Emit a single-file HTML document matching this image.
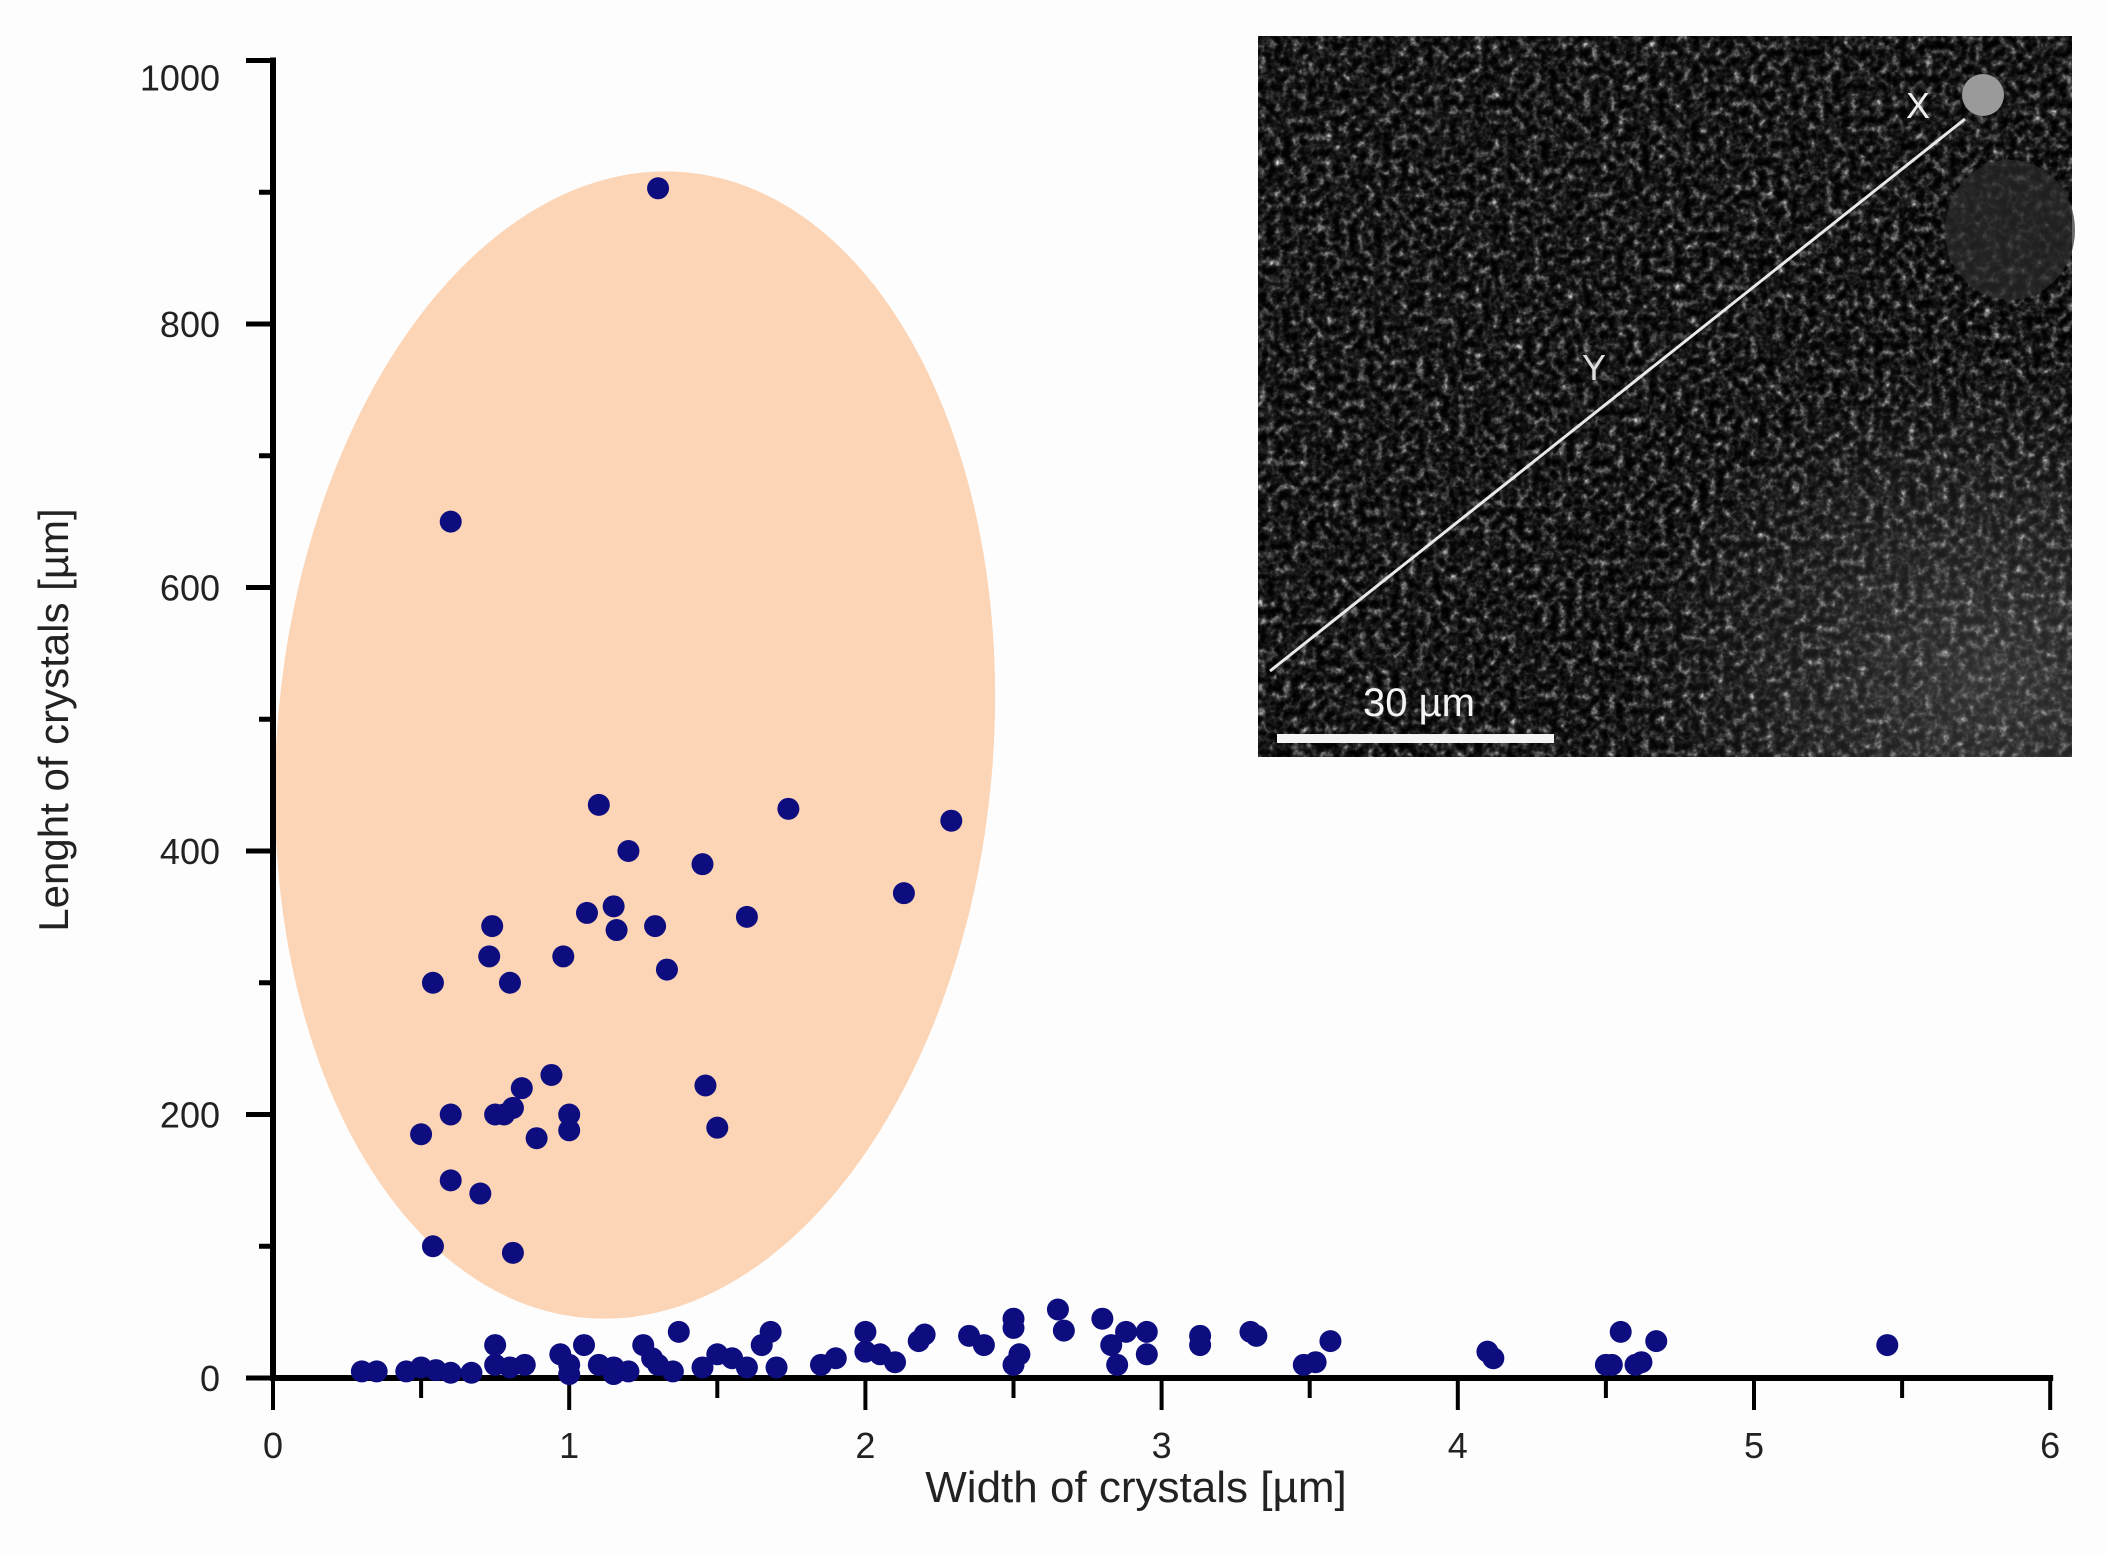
<!DOCTYPE html>
<html><head><meta charset="utf-8"><style>
html,body{margin:0;padding:0;background:#fdfdfd;}
svg{display:block;font-family:"Liberation Sans",sans-serif;}
</style></head><body>
<svg id="chart" width="2107" height="1555" viewBox="0 0 2107 1555">
<defs>
<filter id="sem" x="0" y="0" width="100%" height="100%" color-interpolation-filters="sRGB">
<feTurbulence type="fractalNoise" baseFrequency="0.12" numOctaves="3" seed="4" result="n"/>
<feColorMatrix in="n" type="matrix" values="1 0 0 0 0  1 0 0 0 0  1 0 0 0 0  0 0 0 0 1" result="g"/>
<feComponentTransfer in="g">
<feFuncR type="gamma" amplitude="1.15" exponent="3.6" offset="0"/>
<feFuncG type="gamma" amplitude="1.15" exponent="3.6" offset="0"/>
<feFuncB type="gamma" amplitude="1.15" exponent="3.6" offset="0"/>
</feComponentTransfer>
</filter>
<radialGradient id="glow" cx="0.9" cy="0.9" r="0.45">
<stop offset="0" stop-color="#888" stop-opacity="0.35"/>
<stop offset="1" stop-color="#888" stop-opacity="0"/>
</radialGradient>
</defs>
<rect width="2107" height="1555" fill="#fdfdfd"/>
<ellipse cx="635" cy="745" rx="358" ry="575" transform="rotate(5 635 745)" fill="#fcd5b6"/>
<g id="inset">
<rect x="1258" y="36" width="814" height="721" fill="#141414"/>
<rect x="1258" y="36" width="814" height="721" filter="url(#sem)"/>
<rect x="1258" y="36" width="814" height="721" fill="url(#glow)"/>
<ellipse cx="2010" cy="230" rx="65" ry="70" fill="#2c2c2c" opacity="0.7"/>
<line x1="1270" y1="671" x2="1965" y2="119" stroke="#e8e8e8" stroke-width="3"/>
<circle cx="1983" cy="95" r="21" fill="#9a9a9a"/>
<text x="1594" y="380" fill="#ddd" font-size="36" text-anchor="middle">Y</text>
<text x="1918" y="118" fill="#eee" font-size="36" text-anchor="middle">X</text>
<rect x="1277" y="734" width="277" height="9" fill="#f4f4f4"/>
<text x="1363" y="716" fill="#f4f4f4" font-size="40">30 µm</text>
</g>
<g id="axes"></g>
<g id="points"></g>
<text x="1136" y="1502" font-size="44" text-anchor="middle" fill="#222">Width of crystals  [µm]</text>
<text x="0" y="0" font-size="42" text-anchor="middle" fill="#222" transform="translate(68 720) rotate(-90)">Lenght of crystals [µm]</text>
</svg>
<script>
const xs = [1.3,0.6,1.1,1.74,2.29,1.2,1.45,2.13,1.06,1.15,1.6,0.74,1.16,1.29,0.73,0.98,1.33,0.54,0.8,0.94,1.46,0.84,0.81,0.75,0.6,0.78,1.0,1.0,1.5,0.89,0.5,0.6,0.7,0.54,0.81,
0.3,0.35,0.45,0.5,0.55,0.6,0.67,0.75,0.75,0.8,0.85,0.97,1.0,1.05,1.0,1.1,1.15,1.15,1.2,1.25,1.28,1.3,1.35,1.37,1.45,1.5,1.55,1.6,1.65,1.68,1.7,1.85,1.9,2.0,2.0,2.05,2.1,2.18,2.2,2.35,2.4,2.5,2.5,2.5,2.52,2.65,2.67,2.8,2.83,2.85,2.88,2.95,2.95,3.13,3.13,3.3,3.32,3.48,3.52,3.57,4.1,4.12,4.5,4.52,4.55,4.6,4.62,4.67,5.45];
const ys = [903,650,435,432,423,400,390,368,353,358,350,343,340,343,320,320,310,300,300,230,222,220,205,200,200,200,200,188,190,182,185,150,140,100,95,
5,5,5,8,6,4,4,25,10,8,10,18,10,25,3,10,8,3,5,25,15,10,5,35,8,18,15,8,25,35,8,10,15,20,35,18,12,28,33,32,25,45,38,10,18,52,36,45,25,10,35,35,18,32,25,35,32,10,12,28,20,15,10,10,35,10,12,28,25];
const xTicks = [0,1,2,3,4,5,6];
const yTicks = [0,200,400,600,800,1000];
const X = v => 273 + v * 296.2;
const Y = v => 1378 - v * 1.3175;
const NS = "http://www.w3.org/2000/svg";
function mk(tag, attrs, parent){const e=document.createElementNS(NS,tag);for(const k in attrs)e.setAttribute(k,attrs[k]);parent.appendChild(e);return e;}
const ax = document.getElementById('axes');
let l = mk('line',{x1:X(0),y1:Y(1000)-3,x2:X(0),y2:Y(0)+3,stroke:'#000','stroke-width':6},ax);


l = mk('line',{x1:X(0)-3,y1:Y(0),x2:X(6)+3,y2:Y(0),stroke:'#000','stroke-width':6},ax);


for (let v=0; v<=6; v+=0.5){
  const major = Number.isInteger(v);
  const t = mk('line',{x1:X(v),y1:Y(0),x2:X(v),y2:Y(0)+(major?32:20),stroke:'#000','stroke-width':4},ax);
  
  
}
for (let v=0; v<=1000; v+=100){
  const major = v%200===0;
  const t = mk('line',{x1:X(0)-(major?27:14),y1:Y(v),x2:X(0),y2:Y(v),stroke:'#000','stroke-width':5},ax);
  
  
}
xTicks.forEach(v=>{
  const t = mk('text',{x:X(v),y:1458,'font-size':36,'text-anchor':'middle',fill:'#222'},ax);
  t.textContent = v;
  
  
});
yTicks.forEach(v=>{
  const t = mk('text',{x:220,y:Y(v)+(v===1000?30:13),'font-size':36,'text-anchor':'end',fill:'#222'},ax);
  t.textContent = v;
  
  
});
const pg = document.getElementById('points');
xs.forEach((x,i)=>{
  const c = mk('circle',{cx:X(x),cy:Y(ys[i]),r:11,fill:'#0d0d80'},pg);
  
  
});
</script>
</body></html>
